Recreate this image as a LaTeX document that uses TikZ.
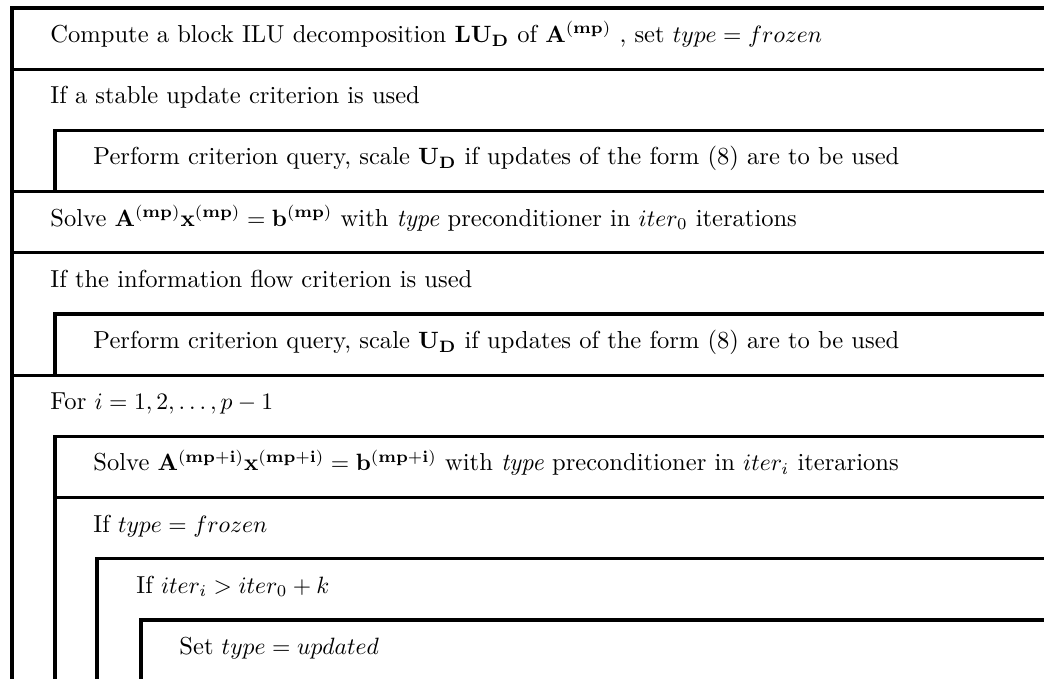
\documentclass[tikz,border=0pt]{standalone}
\begin{document}
\begin{tikzpicture}[x=0.4237pt,y=-0.4237pt,
  rule/.style={line width=1.4pt,line join=miter},
  txt/.style={anchor=base west,inner sep=0pt,font=\fontsize{10.4}{12.5}\selectfont}]
\useasboundingbox (0,0) rectangle (1044,679);
% outer frame and full-width separators
\draw[rule] (1044,8) -- (12,8) -- (12,679);
\foreach \yy in {69.2,191.6,252.8,375.2}
  \draw[rule] (12,\yy) -- (1044,\yy);
% nested blocks
\draw[rule] (1044,130.4) -- (55,130.4) -- (55,191.6);
\draw[rule] (1044,314) -- (55,314) -- (55,375.2);
\draw[rule] (1044,436.4) -- (55,436.4) -- (55,679);
\draw[rule] (55,497.6) -- (1044,497.6);
\draw[rule] (1044,558.8) -- (97,558.8) -- (97,679);
\draw[rule] (1044,620) -- (141,620) -- (141,679);
% statements
\node[txt] (s1) at (50,42.5) {Compute a block ILU decomposition $\mathbf{L}\mathbf{U}_{\mathbf{D}}$ of $\mathbf{A}^{(\mathbf{mp})}$ , set $type=frozen$};
\node[txt] (s2) at (50,103.7) {If a stable update criterion is used};
\node[txt] (s3) at (93,164.9) {Perform criterion query, scale $\mathbf{U}_{\mathbf{D}}$ if updates of the form (8) are to be used};
\node[txt] (s4) at (50,226.1) {Solve $\mathbf{A}^{(\mathbf{mp})}\mathbf{x}^{(\mathbf{mp})}=\mathbf{b}^{(\mathbf{mp})}$ with \emph{type} preconditioner in $iter_0$ iterations};
\node[txt] (s5) at (50,287.3) {If the information flow criterion is used};
\node[txt] (s6) at (93,348.5) {Perform criterion query, scale $\mathbf{U}_{\mathbf{D}}$ if updates of the form (8) are to be used};
\node[txt] (s7) at (50,409.7) {For $i=1,2,\ldots,p-1$};
\node[txt] (s8) at (93,470.9) {Solve $\mathbf{A}^{(\mathbf{mp+i})}\mathbf{x}^{(\mathbf{mp+i})}=\mathbf{b}^{(\mathbf{mp+i})}$ with \emph{type} preconditioner in $iter_i$ iterarions};
\node[txt] (s9) at (93,532.1) {If $type=frozen$};
\node[txt] (s10) at (136,593.3) {If $iter_i>iter_0+k$};
\node[txt] (s11) at (179,654.5) {Set $type=updated$};
\end{tikzpicture}
\end{document}
